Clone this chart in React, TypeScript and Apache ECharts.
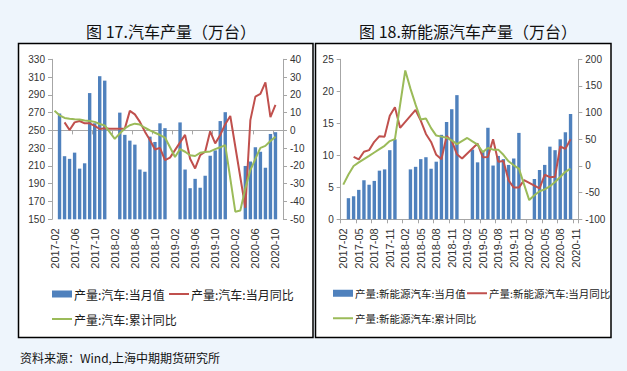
import React, { useEffect, useRef } from "react";
import * as echarts from "echarts";

const months = [
  "2017-02","2017-03","2017-04","2017-05","2017-06","2017-07","2017-08","2017-09","2017-10","2017-11","2017-12",
  "2018-01","2018-02","2018-03","2018-04","2018-05","2018-06","2018-07","2018-08","2018-09","2018-10","2018-11","2018-12",
  "2019-01","2019-02","2019-03","2019-04","2019-05","2019-06","2019-07","2019-08","2019-09","2019-10","2019-11","2019-12",
  "2020-01","2020-02","2020-03","2020-04","2020-05","2020-06","2020-07","2020-08","2020-09","2020-10","2020-11",
];

// 图17 汽车产量
const autoMonthly = [
  null, 269, 221, 218, 225, 207, 213, 292, 258, 311, 306,
  null, null, 270, 245, 238.5, 234, 206, 203.5, 243, 237, 258, 252.5,
  null, null, 259, 206, 185, 195.5, 185.5, 199, 221.5, 227.5, 260.5, 270.5,
  null, null, null, 210, 215, 231, 226, 208, 246, 248, null,
];
const autoMonthlyYoY = [
  null, null, 4.5, 0.2, 4.5, 5.3, 4, 4, 2.5, 0.8, 1.2,
  1.0, null, null, 1.0, 11, 9, 4.8, -0.7, -5.4, -10.7, -9.8, -16.7,
  -15.3, null, null, -2.5, -15.9, -21.4, -14, -12, -0.5, -7.3, -2.6, 3.5,
  8.1, null, null, -43.5, 5.8, 19, 20.5, 27, 7.5, 14.3, null,
];
const autoCumYoY = [
  11, 8.5, 7, 6.6, 6.3, 6.1, 5.6, 5.3, 4.8, 3.6, 2.8,
  null, -4.8, -1.7, 1.1, 2.9, 3.8, 3.3, 1.5, 0, -1.3, -2.6, -4,
  null, -15, -10.5, -12, -14, -14.4, -12.6, -12.2, -11.8, -10.5, -9.5, -8.3,
  null, -45.7, -45, -32.6, -22.3, -16, -9.8, -8.7, -6, -3.6, null,
];

// 图18 新能源汽车产量
const nevMonthly = [
  null, 3.3, 3.6, 4.6, 6.1, 5.4, 6.0, 7.6, 7.8, 10.8, 12.5,
  null, null, 7.8, 8.2, 9.4, 9.7, 7.9, 9.0, 13.2, 15.2, 17.2, 19.4,
  null, null, 10.9, 8.9, 10.6, 14.3, 8.4, 9.9, 9.4, 8.5, 9.5, 13.5,
  null, null, 6.3, 7.7, 8.5, 11.35, 10.8, 12.5, 13.6, 16.45, null,
];
const nevMonthlyYoY = [
  null, null, 17.2, 12.3, 26.6, 29.7, 45.3, 55.9, 55, 94, 110,
  71.5, null, null, 105, 85, 60, 45, 21, 12.7, 56, 47, 22,
  14, null, null, 42, 16.5, 17, 50, 8, 9.5, -27, -40.5, -40.5,
  -26.5, null, null, -42, -16.5, -21, -20, 36.5, 32, 50, null,
];
const nevCumYoY = [
  -35, -16, 0, 6.6, 12.8, 19, 25.3, 31.6, 37.8, 46.6, 50.3,
  null, 179, 145, 115, 87, 89, 71, 57, 55, 53, 48, 41,
  null, 52.5, 46, 40, 26, 33.7, 30.6, 30.6, 21, 8.75, 1.25, -5,
  null, -64, -55, -47.5, -44, -38, -30, -20.6, -11, -5, null,
];

const names = {
  a1: "产量:汽车:当月值",
  a2: "产量:汽车:当月同比",
  a3: "产量:汽车:累计同比",
  n1: "产量:新能源汽车:当月值",
  n2: "产量:新能源汽车:当月同比",
  n3: "产量:新能源汽车:累计同比",
};

const BLUE = "#4F81BD";
const RED = "#C0504D";
const GREEN = "#9BBB59";
const AXIS = "#A6A6A6";
const LABEL = "#333333";
const NUM_FONT = "Liberation Sans, Arial, sans-serif";
const CJK_FONT = "Noto Sans CJK SC, sans-serif";

function xAxis(gridIndex: number, interval: number) {
  return {
    type: "category",
    gridIndex,
    data: months,
    boundaryGap: true,
    axisLine: { show: true, lineStyle: { color: AXIS, width: 1 } },
    axisTick: { show: true, interval, length: 4, lineStyle: { color: AXIS } },
    axisLabel: {
      interval,
      rotate: 90,
      fontSize: 11,
      color: LABEL,
      margin: 9,
      fontFamily: NUM_FONT,
    },
    splitLine: { show: false },
  };
}

function yAxis(gridIndex: number, position: string, min: number, max: number, interval: number) {
  return {
    type: "value",
    gridIndex,
    position,
    min,
    max,
    interval,
    axisLine: { show: true, lineStyle: { color: AXIS, width: 1 } },
    axisTick: { show: true, length: 4, lineStyle: { color: AXIS } },
    axisLabel: { fontSize: 10, color: LABEL, margin: 7, fontFamily: NUM_FONT },
    splitLine: { show: false },
  };
}

function lineSeries(name: string, data: (number | null)[], color: string, xi: number, yi: number) {
  return {
    name,
    type: "line",
    xAxisIndex: xi,
    yAxisIndex: yi,
    data,
    symbol: "none",
    showSymbol: false,
    connectNulls: true,
    lineStyle: { color, width: 2 },
    itemStyle: { color },
    z: 3,
  };
}

function legend(name: string, left: number, top: number, isBar: boolean, fontSize: number) {
  return {
    data: [name],
    left,
    top,
    padding: 0,
    icon: "rect",
    itemWidth: 20,
    itemHeight: isBar ? 7 : 2,
    itemGap: 0,
    selectedMode: false,
    textStyle: { fontSize, color: "#1a1a1a", fontFamily: CJK_FONT, padding: [0, 0, 0, -3] },
  };
}

export default function App() {
  const ref = useRef<HTMLDivElement>(null);
  useEffect(() => {
    document.body.style.margin = "0";
    if (!ref.current) return;
    const chart = echarts.init(ref.current, null, { renderer: "svg" });
    const option: any = {
      animation: false,
      backgroundColor: "#EEF5FC",
      grid: [
        { left: 52, top: 59.3, width: 231, height: 160, outerBoundsMode: "none" },
        { left: 340.7, top: 59.3, width: 237.6, height: 160, outerBoundsMode: "none" },
      ],
      xAxis: [xAxis(0, 3), xAxis(1, 2)],
      yAxis: [
        yAxis(0, "left", 150, 330, 20),
        yAxis(0, "right", -50, 40, 10),
        yAxis(1, "left", 0, 25, 5),
        yAxis(1, "right", -100, 200, 50),
      ],
      legend: [
        legend(names.a1, 52, 288, true, 12),
        legend(names.a2, 169, 288, false, 12),
        legend(names.a3, 52, 313, false, 12),
        legend(names.n1, 333, 288, true, 10.5),
        legend(names.n2, 467, 288, false, 10.5),
        legend(names.n3, 333, 313, false, 10.5),
      ],
      series: [
        {
          name: names.a1,
          type: "bar",
          xAxisIndex: 0,
          yAxisIndex: 0,
          data: autoMonthly,
          barWidth: 3.4,
          itemStyle: { color: BLUE },
          z: 2,
        },
        lineSeries(names.a2, autoMonthlyYoY, RED, 0, 1),
        lineSeries(names.a3, autoCumYoY, GREEN, 0, 1),
        {
          name: names.n1,
          type: "bar",
          xAxisIndex: 1,
          yAxisIndex: 2,
          data: nevMonthly,
          barWidth: 3.4,
          itemStyle: { color: BLUE },
          z: 2,
        },
        lineSeries(names.n2, nevMonthlyYoY, RED, 1, 3),
        lineSeries(names.n3, nevCumYoY, GREEN, 1, 3),
      ],
      graphic: [
        {
          type: "rect",
          z: -10,
          silent: true,
          shape: { x: 18.5, y: 43.5, width: 294.5, height: 294 },
          style: { fill: "#FFFFFF", stroke: "#000000", lineWidth: 1.5 },
        },
        {
          type: "rect",
          z: -10,
          silent: true,
          shape: { x: 315.5, y: 43.5, width: 295.5, height: 294 },
          style: { fill: "#FFFFFF", stroke: "#000000", lineWidth: 1.5 },
        },
        {
          type: "text",
          x: 171,
          y: 31,
          style: {
            text: "图 17.汽车产量（万台）",
            fontSize: 16,
            fontFamily: CJK_FONT,
            fill: "#111",
            textAlign: "center",
            textVerticalAlign: "middle",
          },
        },
        {
          type: "text",
          x: 468,
          y: 31,
          style: {
            text: "图 18.新能源汽车产量（万台）",
            fontSize: 16,
            fontFamily: CJK_FONT,
            fill: "#111",
            textAlign: "center",
            textVerticalAlign: "middle",
          },
        },
        {
          type: "text",
          x: 20,
          y: 357,
          style: {
            text: "资料来源：Wind,上海中期期货研究所",
            fontSize: 12,
            fontFamily: CJK_FONT,
            fill: "#111",
            textAlign: "left",
            textVerticalAlign: "middle",
          },
        },
      ],
    };
    chart.setOption(option);
    return () => chart.dispose();
  }, []);
  return <div ref={ref} style={{ width: 627, height: 371 }} />;
}
